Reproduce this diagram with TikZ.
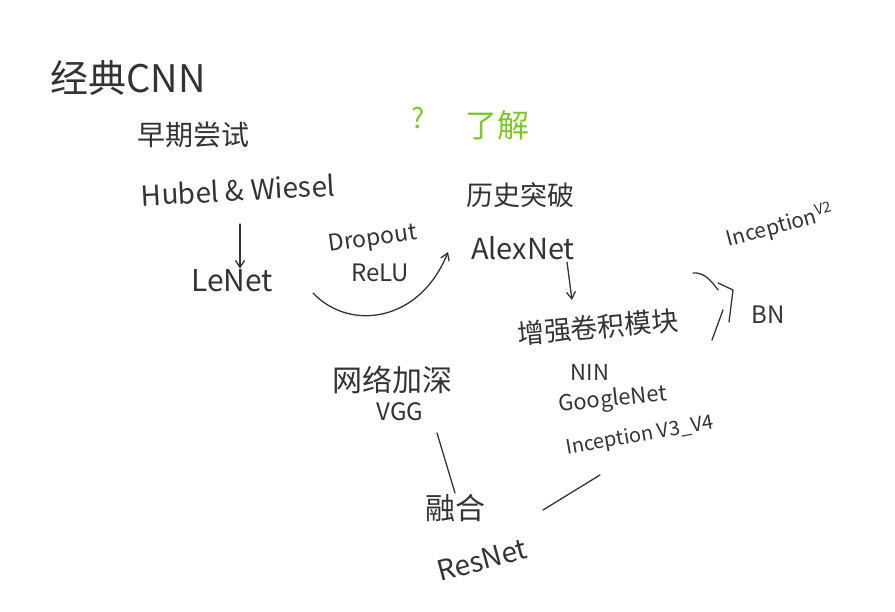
\documentclass[tikz,border=0pt]{standalone}
\usepackage{fontspec}
\setmainfont{Noto Sans CJK SC}
\usetikzlibrary{arrows.meta}
\definecolor{ink}{HTML}{333333}
\definecolor{leaf}{HTML}{7CC828}
\begin{document}
\begin{tikzpicture}[
    x=1pt, y=-1pt,
    line cap=round,
    line join=round,
    pen/.style={draw=ink, line width=1.3pt},
    tip/.style={-{Straight Barb[length=7pt,width=9pt]}},
    word/.style={text=ink, inner sep=1pt},
    note/.style={text=leaf, inner sep=1pt}
]
\useasboundingbox (0,0) rectangle (895,612);

% -------------------------------------------------
% Заголовок и ранняя ветка
% -------------------------------------------------

\node[word, font=\fontsize{38}{40}\selectfont] (title) at (128,78) {经典CNN};
\node[word, font=\fontsize{28}{30}\selectfont] (early) at (193,135) {早期尝试};
\node[word, font=\fontsize{28}{30}\selectfont, rotate=3] (hubel) at (238,190) {Hubel \& Wiesel};
\node[word, font=\fontsize{30}{32}\selectfont] (lenet) at (232,281) {LeNet};

\coordinate (hubdown) at (240,224);   % под Hubel
\draw[pen, tip] (hubdown) -- (hubdown |- lenet.north);

% -------------------------------------------------
% Переход к AlexNet
% -------------------------------------------------

\node[word, font=\fontsize{23}{25}\selectfont, rotate=8] (drop) at (373,240) {Dropout};
\node[word, font=\fontsize{24}{26}\selectfont] (relu) at (380,273) {ReLU};

\node[note, font=\fontsize{28}{30}\selectfont] (ask) at (418,118) {?};
\node[note, font=\fontsize{32}{34}\selectfont] (know) at (497,125) {了解};

\node[word, font=\fontsize{27}{29}\selectfont] (history) at (520,195) {历史突破};
\node[word, font=\fontsize{29}{31}\selectfont] (alexnet) at (523,248) {AlexNet};

\coordinate (lenetout) at (313,293);  % начало дуги
\coordinate (alexin) at (448,252);    % конец дуги
\draw[pen, tip] (lenetout) .. controls (350,332) and (420,322) .. (alexin);

% -------------------------------------------------
% Ветка модулей
% -------------------------------------------------

\node[word, font=\fontsize{27}{29}\selectfont, rotate=5] (module) at (598,327) {增强卷积模块};
\node[word, font=\fontsize{22}{24}\selectfont] (nin) at (590,372) {NIN};
\node[word, font=\fontsize{22}{24}\selectfont, rotate=6] (google) at (613,400) {GoogleNet};
\node[word, font=\fontsize{20}{22}\selectfont, rotate=10] (incep) at (640,436) {Inception V3\_V4};

\coordinate (alexout) at (567,262);   % под AlexNet
\draw[pen, tip] (alexout) -- (572,300);

\node[word, font=\fontsize{21}{23}\selectfont, rotate=15] (incv2) at (780,226) {Inception\textsuperscript{V2}};
\node[word, font=\fontsize{24}{26}\selectfont] (bn) at (768,315) {BN};

% знак следования
\coordinate (imply) at (733,290);
\draw[pen] (693,273) .. controls (705,272) and (712,282) .. (718,290);
\draw[pen] (718,283) -- (imply) -- (729,322);
\draw[pen] (723,310) -- (712,340);

% -------------------------------------------------
% Ветка глубины и слияние
% -------------------------------------------------

\node[word, font=\fontsize{30}{32}\selectfont] (deep) at (392,380) {网络加深};
\node[word, font=\fontsize{24}{26}\selectfont] (vgg) at (400,412) {VGG};
\node[word, font=\fontsize{30}{32}\selectfont] (fuse) at (455,508) {融合};
\node[word, font=\fontsize{28}{30}\selectfont, rotate=15] (resnet) at (482,560) {ResNet};

\coordinate (vggout) at (437,433);    % под VGG
\draw[pen] (vggout) -- (fuse.north);
\coordinate (incepout) at (600,475);  % под Inception V3_V4
\coordinate (resin) at (543,510);     % над ResNet
\draw[pen] (incepout) -- (resin);
\end{tikzpicture}
\end{document}
